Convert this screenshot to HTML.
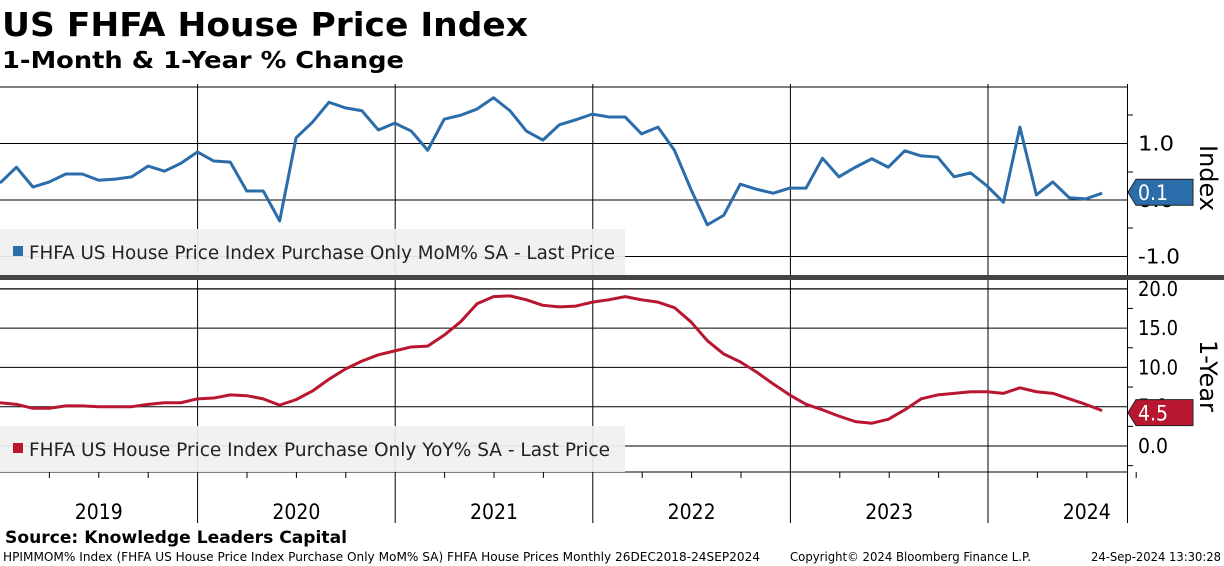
<!DOCTYPE html>
<html><head><meta charset="utf-8"><style>
body{margin:0;background:#fff;width:1224px;height:566px;overflow:hidden;font-family:"DejaVu Sans","Liberation Sans",sans-serif}
svg{display:block}
</style></head><body>
<svg id="c" width="1224" height="566" xmlns="http://www.w3.org/2000/svg">
<text x="2" y="36" font-size="33" font-weight="bold" textLength="526" lengthAdjust="spacingAndGlyphs">US FHFA House Price Index</text>
<text x="2" y="68" font-size="23" font-weight="bold" textLength="402" lengthAdjust="spacingAndGlyphs">1-Month &amp; 1-Year % Change</text>
<g id="grid"></g>
<rect x="0" y="275" width="1224" height="5" fill="#444"/>
<g id="marks"></g>
<text x="5" y="543" font-size="17" font-weight="bold" textLength="342" lengthAdjust="spacingAndGlyphs">Source: Knowledge Leaders Capital</text>
<text x="3" y="561" font-size="12" textLength="757" lengthAdjust="spacingAndGlyphs">HPIMMOM% Index (FHFA US House Price Index Purchase Only MoM% SA) FHFA House Prices  Monthly 26DEC2018-24SEP2024</text>
<text x="790" y="561" font-size="12" textLength="241" lengthAdjust="spacingAndGlyphs">Copyright© 2024 Bloomberg Finance L.P.</text>
<text x="1091" y="561" font-size="12" textLength="130" lengthAdjust="spacingAndGlyphs">24-Sep-2024 13:30:28</text>
</svg>
<script>
const years=["2019","2020","2021","2022","2023","2024"];
const momValues=[0.30,0.58,0.23,0.32,0.46,0.46,0.35,0.37,0.41,0.60,0.51,0.65,0.85,0.69,0.67,0.16,0.16,-0.37,1.10,1.38,1.73,1.63,1.58,1.24,1.36,1.22,0.88,1.43,1.50,1.61,1.81,1.58,1.22,1.06,1.33,1.42,1.52,1.47,1.47,1.17,1.29,0.88,0.19,-0.44,-0.27,0.28,0.19,0.12,0.21,0.21,0.74,0.41,0.58,0.73,0.58,0.87,0.78,0.76,0.41,0.48,0.25,-0.04,1.29,0.09,0.32,0.04,0.02,0.12];
const yoyValues=[5.5,5.3,4.8,4.8,5.1,5.1,5.0,5.0,5.0,5.3,5.5,5.5,6.0,6.1,6.5,6.4,6.0,5.2,5.9,7.0,8.5,9.8,10.8,11.6,12.1,12.6,12.7,14.1,15.8,18.1,19.0,19.1,18.6,17.9,17.7,17.8,18.3,18.6,19.0,18.6,18.3,17.6,15.8,13.4,11.7,10.7,9.4,7.9,6.5,5.3,4.6,3.8,3.1,2.9,3.4,4.6,6.0,6.5,6.7,6.9,6.9,6.7,7.4,6.9,6.7,6.0,5.3,4.5];
const momTicks=[1.0,0.0,-1.0];
const yoyTicks=[20.0,15.0,10.0,5.0,0.0];
const momLast="0.1", yoyLast="4.5";

const NS="http://www.w3.org/2000/svg";
const svg=document.getElementById('c'),grid=document.getElementById('grid'),marks=document.getElementById('marks');
const xS=i=>i*16.45;
const yTop=v=>200-v*56.5;
const yBot=v=>446-v*7.86;
const yearX=k=>197.6*k;
function el(t,a,p){const e=document.createElementNS(NS,t);for(const k in a)e.setAttribute(k,a[k]);(p||svg).appendChild(e);return e;}
el('line',{x1:0,x2:1127,y1:87,y2:87,stroke:'#000','stroke-width':1},grid);
momTicks.forEach(t=>{const l=el('line',{x1:0,x2:1127,y1:yTop(t),y2:yTop(t),stroke:'#000','stroke-width':1},grid);


const tx=el('text',{x:1138,y:yTop(t)+7,'font-size':20,textLength:t<0?42:36,lengthAdjust:'spacingAndGlyphs'},grid);tx.textContent=t.toFixed(1);

});
yoyTicks.forEach(t=>{const l=el('line',{x1:0,x2:1127,y1:yBot(t),y2:yBot(t),stroke:'#000','stroke-width':1},grid);


const tx=el('text',{x:1138,y:yBot(t)+7,'font-size':20,textLength:t>=10?40:30,lengthAdjust:'spacingAndGlyphs'},grid);tx.textContent=t.toFixed(1);

});
[115,172,228].forEach(y=>el('line',{x1:1127,x2:1133,y1:y,y2:y,stroke:'#000'},grid));
[yBot(17.5),yBot(12.5),yBot(7.5),yBot(2.5),yBot(-2.5)].forEach(y=>el('line',{x1:1127,x2:1133,y1:y,y2:y,stroke:'#000'},grid));
el('line',{x1:1127.5,x2:1127.5,y1:84,y2:523,stroke:'#000'},grid);
el('line',{x1:0,x2:1127,y1:472,y2:472,stroke:'#000'},grid);
el('line',{x1:0,x2:1127,y1:289,y2:289,stroke:'#000'},grid);
years.forEach((y,k)=>{
 if(k>0){const l=el('line',{x1:yearX(k),x2:yearX(k),y1:84,y2:523,stroke:'#000','stroke-width':1},grid);
 
 }
 for(let q=1;q<4;q++)el('line',{x1:yearX(k)+q*49.4,x2:yearX(k)+q*49.4,y1:472,y2:478,stroke:'#000'},grid);
 const t=el('text',{x:yearX(k)+98.8,y:519,'font-size':21,'text-anchor':'middle',textLength:48,lengthAdjust:'spacingAndGlyphs'},grid);t.textContent=y;
 
 
});
function legend(y,color,txt,name,w){
 const g=el('g',{},marks);
 
 
 el('rect',{x:0,y:y,width:625,height:46,fill:'#f0f0f0',opacity:0.93},g);
 el('rect',{x:13,y:y+17,width:10,height:10,fill:color},g);
 const t=el('text',{x:29,y:y+30,'font-size':19,fill:'#222',textLength:w,lengthAdjust:'spacingAndGlyphs'},g);t.textContent=txt;
}
legend(229,'#2b6cab','FHFA US House Price Index Purchase Only MoM% SA - Last Price','mom-legend',586);
legend(426,'#b8172f','FHFA US House Price Index Purchase Only YoY% SA - Last Price','yoy-legend',581);
const p1=el('polyline',{points:momValues.map((v,i)=>xS(i)+','+yTop(v)).join(' '),fill:'none',stroke:'#2b6cab','stroke-width':3,'stroke-linejoin':'round'},marks);


const p2=el('polyline',{points:yoyValues.map((v,i)=>xS(i)+','+yBot(v)).join(' '),fill:'none',stroke:'#b8172f','stroke-width':3,'stroke-linejoin':'round'},marks);


function tag(yc,color,txt,name){
 const g=el('g',{},marks);
 
 
 el('polygon',{points:`1128,${yc} 1136,${yc-13} 1193,${yc-13} 1193,${yc+13} 1136,${yc+13}`,fill:color,stroke:'#222'},g);
 const t=el('text',{x:1138,y:yc+8,'font-size':21,fill:'#fff',textLength:30,lengthAdjust:'spacingAndGlyphs'},g);t.textContent=txt;
}
tag(yTop(momValues[momValues.length-1])-1,'#2b6cab',momLast,'mom-last-tag');
tag(yBot(yoyValues[yoyValues.length-1])+2,'#b8172f',yoyLast,'yoy-last-tag');
const a1=el('text',{x:0,y:0,'font-size':24,transform:'translate(1200,145) rotate(90)'},marks);a1.textContent='Index';


const a2=el('text',{x:0,y:0,'font-size':24,transform:'translate(1200,340) rotate(90)'},marks);a2.textContent='1-Year';


</script>
</body></html>
